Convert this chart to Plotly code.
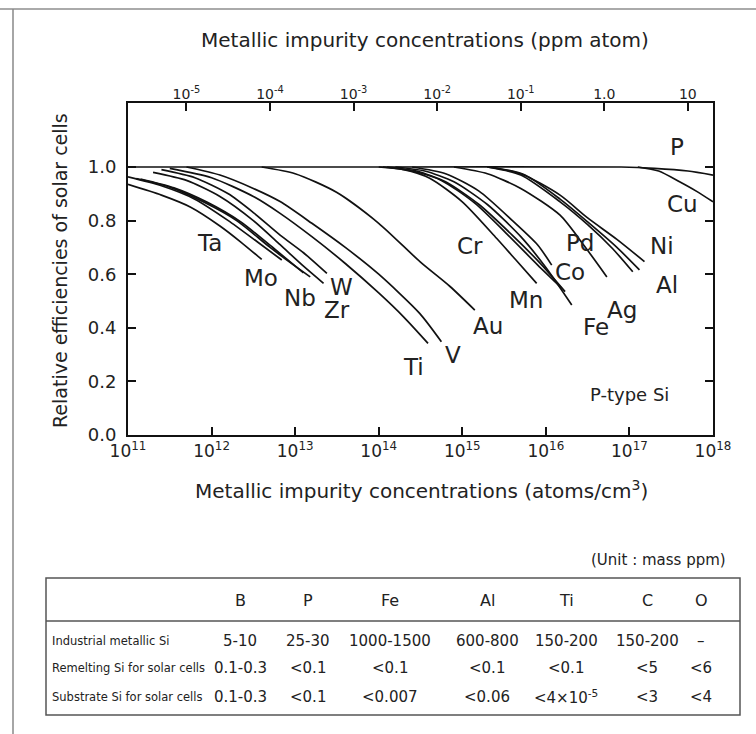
import numpy as np
import plotly.graph_objects as go

# ---------------- data (x = log10 atoms/cm3, y = relative efficiency) -------------
ta_x = [11.0, 11.4, 11.75, 12.1, 12.35, 12.6]
ta_y = [0.935, 0.895, 0.85, 0.78, 0.72, 0.655]
mo_x = [11.0, 11.4, 11.8, 12.2, 12.55, 12.84]
mo_y = [0.963, 0.93, 0.88, 0.80, 0.72, 0.653]
nb_x = [11.1, 11.5, 11.9, 12.3, 12.7, 13.0, 13.18]
nb_y = [0.957, 0.925, 0.87, 0.80, 0.70, 0.63, 0.59]
nb2_x = [11.15, 11.55, 11.95, 12.35, 12.75, 13.1]
nb2_y = [0.955, 0.922, 0.868, 0.795, 0.695, 0.605]
zr_x = [11.3, 11.7, 12.1, 12.5, 12.82, 13.1, 13.34]
zr_y = [0.98, 0.95, 0.89, 0.80, 0.71, 0.63, 0.566]
w_x = [11.4, 11.8, 12.2, 12.5, 12.82, 13.1, 13.38]
w_y = [0.99, 0.96, 0.90, 0.83, 0.746, 0.68, 0.603]
ti_x = [11.5, 12.0, 12.5, 12.82, 13.2, 13.6, 14.0, 14.3, 14.59]
ti_y = [0.995, 0.96, 0.89, 0.827, 0.74, 0.64, 0.53, 0.44, 0.342]
v_x = [11.7, 12.1, 12.5, 12.82, 13.2, 13.6, 14.0, 14.49, 14.75]
v_y = [1.0, 0.97, 0.92, 0.871, 0.79, 0.70, 0.60, 0.454, 0.348]
au_x = [12.6, 13.0, 13.5, 14.0, 14.5, 14.85, 15.15]
au_y = [1.0, 0.975, 0.905, 0.79, 0.645, 0.555, 0.466]
cr_x = [14.0, 14.3, 14.61, 15.0, 15.41, 15.65, 15.89]
cr_y = [1.0, 0.99, 0.958, 0.87, 0.734, 0.65, 0.566]
mn_x = [14.1, 14.45, 14.8, 15.2, 15.6, 15.95, 16.23]
mn_y = [1.0, 0.985, 0.945, 0.86, 0.745, 0.635, 0.535]
fe_x = [14.2, 14.55, 14.9, 15.3, 15.7, 16.0, 16.31]
fe_y = [1.0, 0.985, 0.945, 0.86, 0.74, 0.625, 0.485]
mix_x = [14.05, 14.4, 14.75, 15.15, 15.55, 15.9, 16.19]
mix_y = [1.0, 0.985, 0.95, 0.865, 0.745, 0.635, 0.548]
co_x = [14.4, 14.8, 15.2, 15.6, 15.9, 16.07]
co_y = [1.0, 0.975, 0.91, 0.80, 0.71, 0.634]
pd_x = [14.9, 15.3, 15.7, 16.17, 16.45, 16.73]
pd_y = [1.0, 0.975, 0.92, 0.82, 0.71, 0.59]
ni_x = [15.3, 15.7, 16.17, 16.5, 16.85, 17.18]
ni_y = [1.0, 0.975, 0.895, 0.81, 0.73, 0.647]
al_x = [15.35, 15.75, 16.17, 16.5, 16.85, 17.12]
al_y = [1.0, 0.97, 0.88, 0.795, 0.70, 0.616]
ag_x = [15.3, 15.7, 16.17, 16.5, 16.8, 17.04]
ag_y = [1.0, 0.97, 0.87, 0.785, 0.695, 0.609]
cu_x = [17.1, 17.35, 17.6, 17.8, 18.0]
cu_y = [1.0, 0.985, 0.945, 0.91, 0.87]
p_x = [11.0, 14.0, 16.9, 17.3, 17.7, 18.0]
p_y = [1.0, 1.0, 1.0, 0.995, 0.985, 0.97]

curves = {
    "Ta": (ta_x, ta_y), "Mo": (mo_x, mo_y), "Nb": (nb_x, nb_y), "Nb'": (nb2_x, nb2_y),
    "Zr": (zr_x, zr_y), "W": (w_x, w_y), "Ti": (ti_x, ti_y), "V": (v_x, v_y),
    "Au": (au_x, au_y), "Cr": (cr_x, cr_y), "Mn": (mn_x, mn_y), "Fe": (fe_x, fe_y),
    "Cr/Mn/Fe": (mix_x, mix_y), "Co": (co_x, co_y), "Pd": (pd_x, pd_y),
    "Ni": (ni_x, ni_y), "Al": (al_x, al_y), "Ag": (ag_x, ag_y), "Cu": (cu_x, cu_y),
    "P": (p_x, p_y),
}

label_names = ["Ta", "Mo", "Nb", "W", "Zr", "Ti", "V", "Au", "Cr", "Mn", "Co", "Fe",
               "Pd", "Ag", "Ni", "Al", "Cu", "P"]
label_x = [11.98, 12.59, 13.06, 13.56, 13.50, 14.42, 14.89, 15.31, 15.09, 15.76, 16.29,
           16.60, 16.41, 16.91, 17.39, 17.45, 17.64, 17.57]
label_y = [0.716, 0.586, 0.511, 0.552, 0.466, 0.254, 0.30, 0.407, 0.705, 0.504, 0.608,
           0.403, 0.716, 0.466, 0.705, 0.56, 0.862, 1.075]

bottom_ticks = [1e11, 1e12, 1e13, 1e14, 1e15, 1e16, 1e17, 1e18]
bottom_text = ["10<sup>11</sup>", "10<sup>12</sup>", "10<sup>13</sup>", "10<sup>14</sup>",
               "10<sup>15</sup>", "10<sup>16</sup>", "10<sup>17</sup>", "10<sup>18</sup>"]
ppm_ticks = [1e-5, 1e-4, 1e-3, 1e-2, 1e-1, 1.0, 10.0]
ppm_text = ["10<sup>-5</sup>", "10<sup>-4</sup>", "10<sup>-3</sup>", "10<sup>-2</sup>",
            "10<sup>-1</sup>", "1.0", "10"]
y_ticks = [0.0, 0.2, 0.4, 0.6, 0.8, 1.0]
atoms_per_ppm_log = 16.699  # 1 ppm atom = 5e16 atoms/cm3

table_cols = ["B", "P", "Fe", "Al", "Ti", "C", "O"]
table_rows = ["Industrial metallic Si", "Remelting Si for solar cells", "Substrate Si for solar cells"]
industrial = ["5-10", "25-30", "1000-1500", "600-800", "150-200", "150-200", "–"]
remelting = ["0.1-0.3", "<0.1", "<0.1", "<0.1", "<0.1", "<5", "<6"]
substrate = ["0.1-0.3", "<0.1", "<0.007", "<0.06", "<4×10<sup>-5</sup>", "<3", "<4"]

# ---------------- layout helpers (pixel -> paper) ----------------
W, H = 756, 734
PL, PR, PT, PB = 128, 713, 103, 435
def py(v):
    return (PB - v) / (PB - PT)
def pxp(v):
    return (v - PL) / (PR - PL)

FONT = "DejaVu Sans"
TXT = "#222222"
fig = go.Figure()
for name, (xs, ys) in curves.items():
    fig.add_trace(go.Scatter(x=np.power(10.0, xs), y=ys, mode="lines", name=name,
                             line=dict(color="#111111", width=1.7, shape="spline", smoothing=0.7),
                             showlegend=False))
# trace bound to the top (ppm) axis so that it is drawn
fig.add_trace(go.Scatter(x=ppm_ticks, y=[-1] * len(ppm_ticks), xaxis="x2", mode="markers",
                         marker=dict(opacity=0), showlegend=False, hoverinfo="skip"))

def ann(x, y, text, size, xanchor="center", **kw):
    return dict(x=x, y=y, xref="paper", yref="paper", text=text, showarrow=False,
                xanchor=xanchor, yanchor="middle",
                font=dict(family=FONT, size=size, color=TXT), **kw)

annotations = []
for n, lx, ly in zip(label_names, label_x, label_y):
    annotations.append(dict(x=lx, y=ly, xref="x", yref="y", text=n, showarrow=False,
                            xanchor="center", yanchor="middle",
                            font=dict(family=FONT, size=23, color=TXT)))
annotations.append(dict(x=17.0, y=0.153, xref="x", yref="y", text="P-type Si", showarrow=False,
                        xanchor="center", yanchor="middle",
                        font=dict(family=FONT, size=18, color=TXT)))
# axis titles
annotations.append(ann(pxp(425), py(40), "Metallic impurity concentrations (ppm atom)", 20))
annotations.append(ann(pxp(421), py(490), "Metallic impurity concentrations (atoms/cm<sup>3</sup>)", 20))
annotations.append(ann(pxp(60), py(271), "Relative efficiencies of solar cells", 19, textangle=-90))
# table
annotations.append(ann(pxp(728), py(560), "(Unit : mass ppm)", 15, xanchor="right"))
col_x = [240, 308, 390, 487, 566, 647, 701]
row_y = [641, 668, 697]
for c, cx in zip(table_cols, col_x):
    annotations.append(ann(pxp(cx), py(600), c, 16))
for rname, vals, ry in zip(table_rows, [industrial, remelting, substrate], row_y):
    annotations.append(ann(pxp(50), py(ry), rname, 11.5, xanchor="left"))
    for v, cx in zip(vals, col_x):
        annotations.append(ann(pxp(cx), py(ry), v, 15))

shapes = [
    dict(type="rect", xref="paper", yref="paper", x0=pxp(46), x1=pxp(740), y0=py(578), y1=py(715),
         line=dict(color="#555555", width=1.5)),
    dict(type="line", xref="paper", yref="paper", x0=pxp(46), x1=pxp(740), y0=py(621), y1=py(621),
         line=dict(color="#555555", width=1.5)),
    dict(type="line", xref="paper", yref="paper", x0=pxp(0), x1=pxp(756), y0=py(9), y1=py(9),
         line=dict(color="#aaaaaa", width=2)),
    dict(type="line", xref="paper", yref="paper", x0=pxp(13), x1=pxp(13), y0=py(9), y1=py(734),
         line=dict(color="#888888", width=1.5)),
]

fig.update_layout(
    width=W, height=H, autosize=False,
    margin=dict(l=PL, r=W - PR, t=PT, b=H - PB),
    paper_bgcolor="white", plot_bgcolor="white",
    font=dict(family=FONT, color=TXT),
    xaxis=dict(type="log", range=[11, 18], tickvals=bottom_ticks, ticktext=bottom_text,
               ticks="inside", ticklen=8, tickwidth=2, tickcolor="#111111",
               showline=True, linewidth=2, linecolor="#111111", mirror=True,
               showgrid=False, zeroline=False, tickfont=dict(size=17, family=FONT)),
    xaxis2=dict(type="log", overlaying="x", side="top",
                range=[11 - atoms_per_ppm_log, 18 - atoms_per_ppm_log],
                tickvals=ppm_ticks, ticktext=ppm_text, ticks="inside", ticklen=8, tickwidth=2,
                tickcolor="#111111", showline=False, showgrid=False, zeroline=False,
                tickfont=dict(size=14, family=FONT)),
    yaxis=dict(range=[0, (PB - PT) / (PB - 167)], tickvals=y_ticks,
               ticktext=["%.1f" % t for t in y_ticks],
               ticks="inside", ticklen=8, tickwidth=2, tickcolor="#111111",
               showline=True, linewidth=2, linecolor="#111111", mirror="ticks",
               showgrid=False, zeroline=False, tickfont=dict(size=18, family=FONT),
               ticklabelstandoff=6),
    annotations=annotations, shapes=shapes,
)
fig.write_html("out.html")
